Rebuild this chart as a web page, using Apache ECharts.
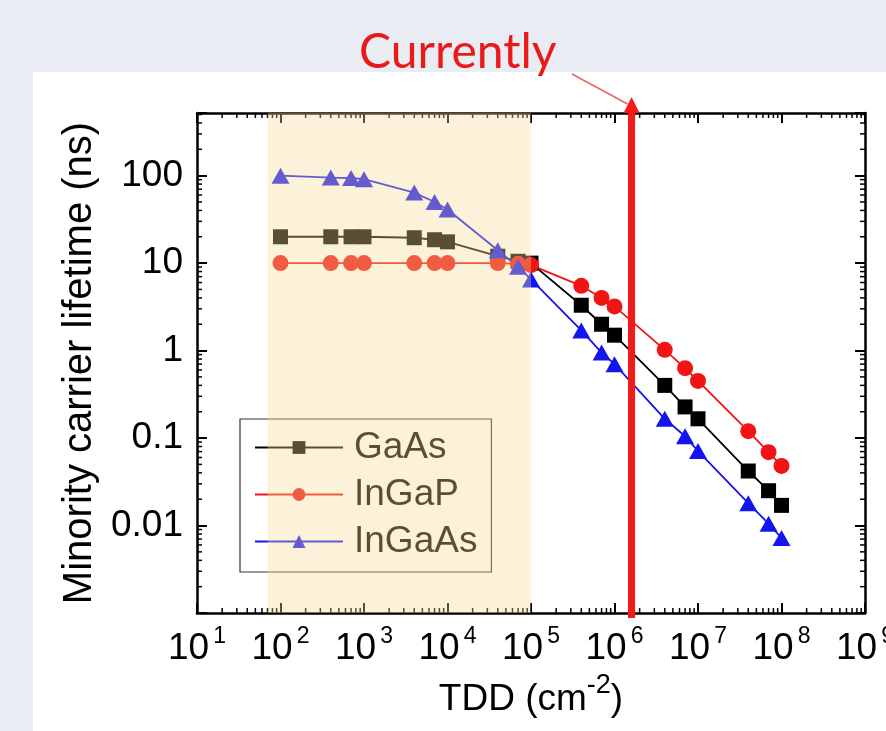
<!DOCTYPE html>
<html>
<head>
<meta charset="utf-8">
<script src="https://cdn.jsdelivr.net/npm/echarts@6/dist/echarts.min.js"></script>
<style>
html, body { margin: 0; padding: 0; background: #e9edf3; }
#panel { position: absolute; left: 33px; top: 72px; right: 0; bottom: 0; background: #fff; }
#chart { position: absolute; left: 0; top: 0; width: 886px; height: 731px; }
</style>
</head>
<body>
<div id="panel"></div>
<div id="chart"></div>
<script>
// threading dislocation density (cm-2)
var tdd = [1e2, 4e2, 7e2, 1e3, 4e3, 7e3, 1e4, 4e4, 7e4, 1e5, 4e5, 7e5, 1e6, 4e6, 7e6, 1e7, 4e7, 7e7, 1e8]
// minority carrier lifetime (ns)
var gaas = [20, 20, 20, 20, 19.5, 18.5, 17.5, 12, 10.5, 10, 3.3, 2.0, 1.5, 0.4, 0.227, 0.166, 0.042, 0.025, 0.017]
var ingap = [10, 10, 10, 10, 10, 10, 10, 10, 9.8, 9.5, 5.5, 4.0, 3.2, 1.02, 0.63, 0.45, 0.12, 0.069, 0.048]
var ingaas = [100, 95, 94, 91, 64, 50, 41, 14, 9.1, 6.5, 1.7, 0.95, 0.7, 0.166, 0.105, 0.071, 0.018, 0.0105, 0.0072]

var seriesNames = ['GaAs', 'InGaP', 'InGaAs']
var yTickLabels = { '-2': '0.01', '-1': '0.1', '0': '1', '1': '10', '2': '100' }
var shadeRange = [70, 1e5]
var markerTDD = 1.6e6
var xRange = [10, 1e9]
var yRange = [0.001, 520]
var minorSteps = [2, 3, 4, 5, 6, 7, 8, 9]

var FONT = 'Liberation Sans'

// minor tick positions (2..9 in every decade)
var xMinor = []
for (var e = 1; e < 9; e++) {
    minorSteps.forEach(function (m) { xMinor.push([m * Math.pow(10, e), 1]) })
}
var yMinor = []
for (var k = -3; k < 3; k++) {
    minorSteps.forEach(function (m) {
        var v = m * Math.pow(10, k)
        if (v < yRange[1]) yMinor.push([100, v])
    })
}

function pairs(ys) {
    return tdd.map(function (x, i) { return [x, ys[i]] })
}

function xMinorTick(params, api) {
    var p = api.coord([api.value(0), 1])
    var r = params.coordSys
    var st = { stroke: '#000', lineWidth: 1.5 }
    return {
        type: 'group',
        children: [
            { type: 'line', shape: { x1: p[0], y1: r.y + r.height, x2: p[0], y2: r.y + r.height - 5 }, style: st },
            { type: 'line', shape: { x1: p[0], y1: r.y, x2: p[0], y2: r.y + 5 }, style: st }
        ]
    }
}

function yMinorTick(params, api) {
    var p = api.coord([100, api.value(1)])
    var r = params.coordSys
    var st = { stroke: '#000', lineWidth: 1.5 }
    return {
        type: 'group',
        children: [
            { type: 'line', shape: { x1: r.x, y1: p[1], x2: r.x + 5, y2: p[1] }, style: st },
            { type: 'line', shape: { x1: r.x + r.width, y1: p[1], x2: r.x + r.width - 5, y2: p[1] }, style: st }
        ]
    }
}

var frameLine = { lineStyle: { color: '#000', width: 2.5 } }
var majorTick = { inside: true, length: 10, lineStyle: { color: '#000', width: 2 } }
var tickRich = {
    base: { fontSize: 37, fontFamily: FONT, color: '#000', padding: [5, 0, 0, 0] },
    sup: { fontSize: 23, fontFamily: FONT, color: '#000', verticalAlign: 'top', padding: [0, 0, 0, 4] }
}
var nameRich = {
    base: { fontSize: 37, fontFamily: FONT, color: '#000', lineHeight: 56 },
    sup: { fontSize: 27, fontFamily: FONT, color: '#000', verticalAlign: 'top' }
}

var myChart = echarts.init(document.getElementById('chart'), null, { renderer: 'canvas', width: 886, height: 731 })

var option = {
    animation: false,
    backgroundColor: 'transparent',
    grid: { left: 197, right: 21, top: 113, bottom: 118, containLabel: false, outerBoundsMode: 'none' },
    legend: {
        data: seriesNames,
        orient: 'vertical',
        left: 240,
        top: 419,
        padding: [10, 14, 12, 14],
        itemGap: 10,
        itemWidth: 88,
        itemHeight: 16,
        borderColor: '#333',
        borderWidth: 1.2,
        backgroundColor: '#fff',
        textStyle: { fontSize: 37, fontFamily: FONT, color: '#000', padding: [0, 0, 0, 6] }
    },
    xAxis: [{
        type: 'log',
        logBase: 10,
        min: xRange[0],
        max: xRange[1],
        splitNumber: 8,
        position: 'bottom',
        axisLine: frameLine,
        axisTick: majorTick,
        splitLine: { show: false },
        axisLabel: {
            margin: 12,
            formatter: function (v) {
                return '{base|10}{sup|' + Math.round(Math.log10(v)) + '}'
            },
            rich: tickRich
        },
        name: '{base|TDD (cm}{sup|-2}{base|)}',
        nameLocation: 'middle',
        nameGap: 54,
        nameTextStyle: { rich: nameRich }
    }, {
        type: 'log',
        logBase: 10,
        min: xRange[0],
        max: xRange[1],
        splitNumber: 8,
        position: 'top',
        axisLine: frameLine,
        axisTick: majorTick,
        axisLabel: { show: false },
        splitLine: { show: false }
    }],
    yAxis: [{
        type: 'log',
        logBase: 10,
        min: yRange[0],
        max: yRange[1],
        splitNumber: 6,
        position: 'left',
        axisLine: frameLine,
        axisTick: majorTick,
        splitLine: { show: false },
        axisLabel: {
            margin: 14,
            fontSize: 37,
            fontFamily: FONT,
            color: '#000',
            formatter: function (v) {
                var ex = Math.log10(v)
                if (Math.abs(ex - Math.round(ex)) > 1e-6) return ''
                return yTickLabels[String(Math.round(ex))] || ''
            }
        },
        name: 'Minority carrier lifetime (ns)',
        nameLocation: 'middle',
        nameGap: 97,
        nameTextStyle: { fontSize: 40, fontFamily: FONT, color: '#000' }
    }, {
        type: 'log',
        logBase: 10,
        min: yRange[0],
        max: yRange[1],
        splitNumber: 6,
        position: 'right',
        axisLine: frameLine,
        axisTick: majorTick,
        axisLabel: { show: false },
        splitLine: { show: false }
    }],
    series: [{
        name: 'GaAs',
        type: 'line',
        data: pairs(gaas),
        symbol: 'rect',
        symbolSize: 15,
        lineStyle: { color: '#000', width: 1.8 },
        itemStyle: { color: '#000' }
    }, {
        name: 'InGaP',
        type: 'line',
        data: pairs(ingap),
        symbol: 'circle',
        symbolSize: 16,
        lineStyle: { color: '#f01414', width: 1.8 },
        itemStyle: { color: '#f01414' }
    }, {
        name: 'InGaAs',
        type: 'line',
        data: pairs(ingaas),
        symbol: 'triangle',
        symbolSize: [18, 16],
        lineStyle: { color: '#1414f0', width: 1.8 },
        itemStyle: { color: '#1414f0' }
    }, {
        name: 'xMinor',
        type: 'custom',
        renderItem: xMinorTick,
        data: xMinor,
        silent: true
    }, {
        name: 'yMinor',
        type: 'custom',
        renderItem: yMinorTick,
        data: yMinor,
        silent: true
    }, {
        name: 'shade',
        type: 'line',
        data: [],
        z: 20,
        markArea: {
            silent: true,
            z: 20,
            itemStyle: { color: 'rgba(245,220,150,0.36)' },
            data: [[{ xAxis: shadeRange[0] }, { xAxis: shadeRange[1] }]]
        }
    }]
}

myChart.setOption(option)

// "Currently" marker
var px = myChart.convertToPixel({ xAxisIndex: 0 }, markerTDD)
myChart.setOption({
    graphic: [{
        type: 'text',
        left: 359,
        top: 29,
        z: 50,
        style: { text: 'Currently', fill: '#ea1a1a', fontSize: 48, fontFamily: 'Lato' }
    }, {
        type: 'line',
        z: 50,
        shape: { x1: 572, y1: 74, x2: px - 4, y2: 104 },
        style: { stroke: '#e86868', lineWidth: 1.6 }
    }, {
        type: 'line',
        z: 50,
        shape: { x1: px, y1: 618, x2: px, y2: 110 },
        style: { stroke: '#f41a1a', lineWidth: 7 }
    }, {
        type: 'polygon',
        z: 50,
        shape: { points: [[px, 97], [px - 8, 113], [px + 8, 113]] },
        style: { fill: '#f41a1a' }
    }]
})
</script>
</body>
</html>
